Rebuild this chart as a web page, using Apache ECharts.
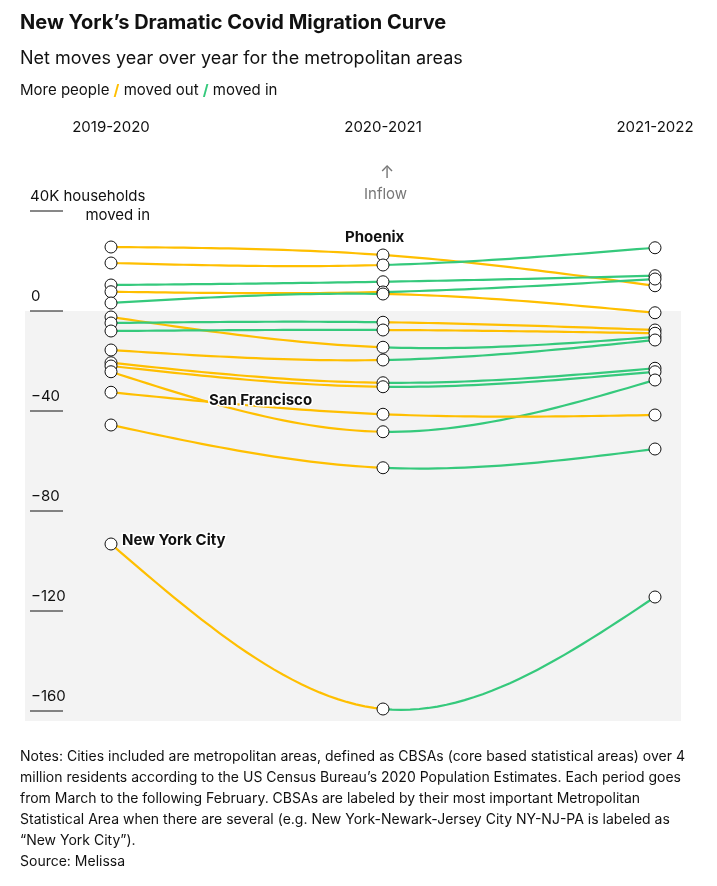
<!DOCTYPE html>
<html><head><meta charset="utf-8">
<script src="https://cdn.jsdelivr.net/npm/echarts@6/dist/echarts.min.js"></script>
<style>html,body{margin:0;padding:0;background:#fff}#c{width:717px;height:886px}</style>
</head><body><div id="c"></div>
<script>
const periods = ['2019-2020', '2020-2021', '2021-2022'];
const cities = ['Phoenix','B','C','D','E','F','G','H','I','J','K','San Francisco','M','N','New York City'];
const v2019 = [25.6, 19.2, 10.4, 7.7, 3.2, -2.4, -4.8, -8.0, -15.6, -20.7, -22.0, -24.3, -32.5, -45.6, -93.2];
const v2020 = [22.4, 18.4, 11.7, 7.6, 6.8, -14.5, -4.5, -7.6, -19.6, -28.7, -30.3, -48.3, -41.3, -62.7, -159.2];
const v2021 = [10.1, 25.3, 14.1, 12.8, -0.7, -10.4, -7.6, -8.9, -11.6, -22.9, -24.3, -27.6, -41.6, -55.2, -114.4];
const tickValues = [0, -40, -80, -120, -160];
const tickLabels = ['0', '−40', '−80', '−120', '−160'];
const labeled = {0: 'Phoenix', 11: 'San Francisco', 14: 'New York City'};

const YEL = '#ffbf00', GRN = '#35c97c';
const chart = echarts.init(document.getElementById('c'));

function spline(y0, y1, y2) {
  const M1 = 1.5 * (y0 - 2 * y1 + y2);
  const a = [], b = [];
  for (let k = 0; k <= 30; k++) {
    const t = k / 30;
    a.push([t, (1 - t) * y0 + t * y1 + (t * t * t - t) * M1 / 6]);
    b.push([1 + t, (1 - t) * y1 + t * y2 + ((1 - t) ** 3 - (1 - t)) * M1 / 6]);
  }
  return [a, b];
}
const vals = [v2019, v2020, v2021];
const pts = [];
vals.forEach((arr, j) => arr.forEach(v => pts.push([j, v])));

chart.setOption({
  animation: false,
  grid: {left: 111, right: 62, top: 211, bottom: 175},
  xAxis: {type: 'value', min: 0, max: 2, interval: 1, position: 'top',
    axisLine: {show: false}, axisTick: {show: false}, splitLine: {show: false},
    axisLabel: {margin: 76, fontSize: 15, color: '#111', fontFamily: 'Inter',
      formatter: v => periods[v] || ''}},
  yAxis: {type: 'value', min: -160, max: 40, show: false},
  graphic: [
    {type: 'text', left: 20, top: 13, style: {text: 'New York’s Dramatic Covid Migration Curve', font: 'bold 20px Inter', fill: '#111'}},
    {type: 'text', left: 20, top: 50, style: {text: 'Net moves year over year for the metropolitan areas', font: '18px Inter', fill: '#111'}},
    {type: 'text', left: 20, top: 83, style: {text: '{a|More people }{y|/}{a| moved out }{g|/}{a| moved in}',
      rich: {a: {font: '15px Inter', fill: '#111'}, y: {font: 'bold 15px Inter', fill: YEL}, g: {font: 'bold 15px Inter', fill: GRN}}}},
    {type: 'text', left: 20, top: 746, style: {text:
      'Notes: Cities included are metropolitan areas, defined as CBSAs (core based statistical areas) over 4\nmillion residents according to the US Census Bureau’s 2020 Population Estimates. Each period goes\nfrom March to the following February. CBSAs are labeled by their most important Metropolitan\nStatistical Area when there are several (e.g. New York-Newark-Jersey City NY-NJ-PA is labeled as\n“New York City”).\nSource: Melissa',
      font: '14px Inter', lineHeight: 21, fill: '#111'}},
    {type: 'text', left: 380, top: 164, style: {text: '↑', font: '17px Inter', fill: '#777'}},
    {type: 'text', left: 364, top: 187, style: {text: 'Inflow', font: '15px Inter', fill: '#777'}},
    {type: 'text', left: 358, top: 541, style: {text: 'Outflow', font: '15px Inter', fill: '#777'}},
    {type: 'text', left: 380, top: 562, style: {text: '↓', font: '17px Inter', fill: '#777'}}
  ],
  series: [
    {type: 'custom', z: 1, silent: true, data: [[0]],
      renderItem: (p, api) => {
        const t = api.coord([0, 0])[1], b = api.coord([0, -164])[1];
        const ch = [{type: 'rect', shape: {x: 25, y: t, width: 656, height: b - t}, style: {fill: '#f3f3f3'}}];
        const y40 = api.coord([0, 40])[1];
        ch.push({type: 'line', shape: {x1: 30, y1: y40, x2: 63, y2: y40}, style: {stroke: '#111', lineWidth: 1}});
        ch.push({type: 'text', style: {text: '40K households', x: 30, y: y40 - 7, font: '15px Inter', fill: '#111', textVerticalAlign: 'bottom'}});
        ch.push({type: 'text', style: {text: 'moved in', x: 150, y: y40 + 12, font: '15px Inter', fill: '#111', textAlign: 'right', textVerticalAlign: 'bottom'}});
        tickValues.forEach((v, k) => {
          const y = api.coord([0, v])[1];
          ch.push({type: 'line', shape: {x1: 30, y1: y, x2: 63, y2: y}, style: {stroke: '#111', lineWidth: 1}});
          ch.push({type: 'text', style: {text: tickLabels[k], x: 31, y: y - 7, font: '15px Inter', fill: '#111', textVerticalAlign: 'bottom'}});
        });
        return {type: 'group', children: ch};
      }},
    {type: 'custom', z: 3, silent: true, data: cities.map((c, i) => [i]),
      renderItem: (p, api) => {
        const i = api.value(0);
        const segs = spline(v2019[i], v2020[i], v2021[i]);
        const ch = segs.map((s, k) => ({type: 'polyline',
          shape: {points: s.map(q => api.coord(q))},
          style: {fill: null, lineWidth: 2.2,
            stroke: (k === 0 ? v2020[i] > v2019[i] : v2021[i] > v2020[i]) ? GRN : YEL}}));
        return {type: 'group', children: ch};
      }},
    {type: 'scatter', z: 4, silent: true, data: pts, symbol: 'circle', symbolSize: 12,
      itemStyle: {color: '#fff', borderColor: '#111', borderWidth: 1, opacity: 1}},
    {type: 'custom', z: 5, silent: true, data: Object.keys(labeled).map(k => [+k]),
      renderItem: (p, api) => {
        const i = api.value(0), name = labeled[i];
        let pos;
        if (i === 0) { pos = api.coord([1, v2020[i]]); pos = [pos[0] - 38, pos[1] - 18]; }
        else if (i === 11) { pos = api.coord([0.36, v2019[i]]); pos = [pos[0], pos[1] + 29]; }
        else { pos = api.coord([0, v2019[i]]); pos = [pos[0] + 11, pos[1] - 4]; }
        return {type: 'text', style: {text: name, x: pos[0], y: pos[1], font: 'bold 15px Inter', fill: '#111',
          stroke: '#fff', lineWidth: 3, textAlign: 'left', textVerticalAlign: 'middle'}};
      }}
  ]
});
</script></body></html>
